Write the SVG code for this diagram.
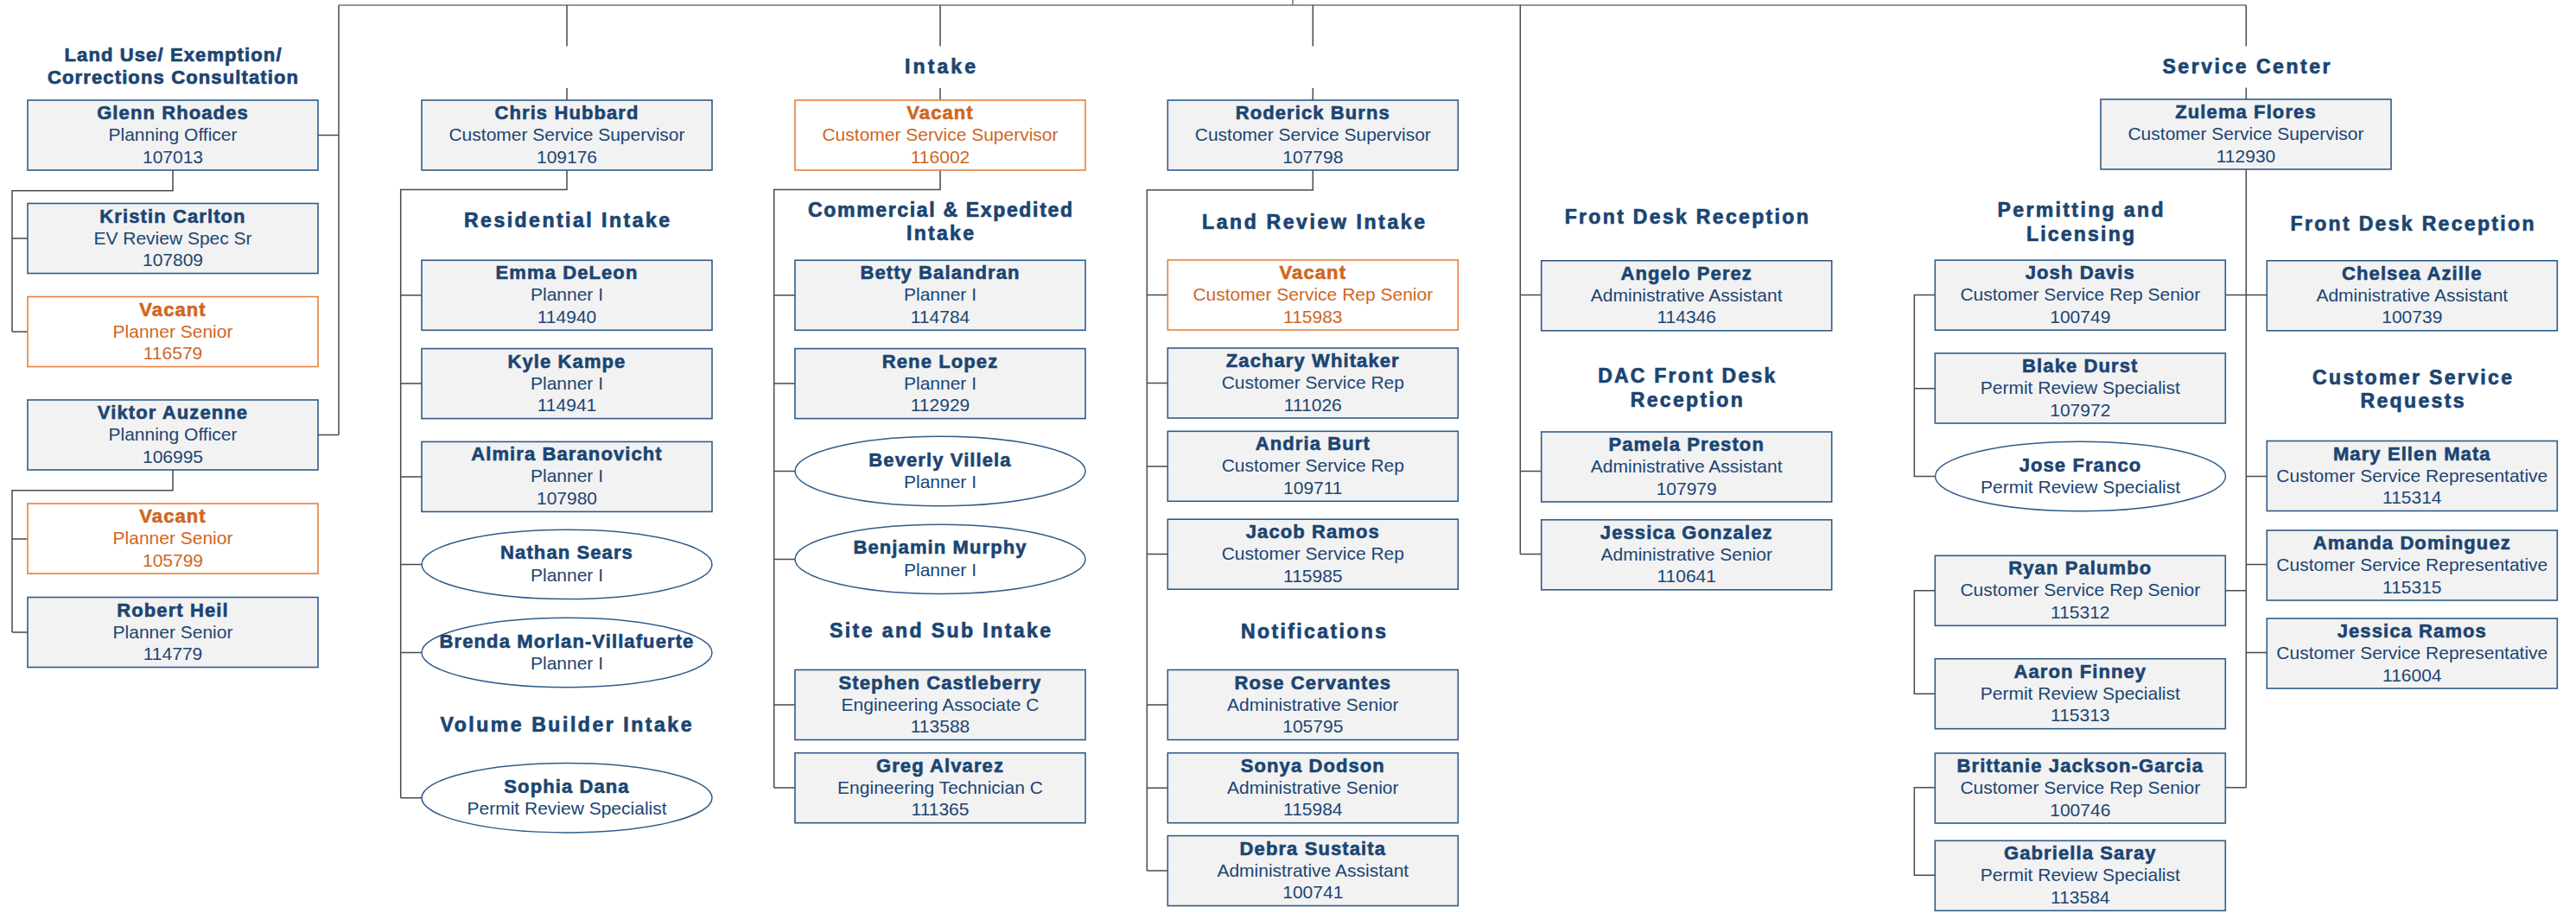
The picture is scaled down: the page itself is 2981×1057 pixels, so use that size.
<svg xmlns="http://www.w3.org/2000/svg" width="2981" height="1057" viewBox="0 0 2981 1057">
<style>
text{font-family:"Liberation Sans",Arial,sans-serif;text-anchor:middle;fill:#1B4572;stroke:#1B4572;stroke-width:0}
.n{font-weight:bold;font-size:22px;letter-spacing:1.1px;stroke-width:0.6px}
.t{font-size:21px}
.h{font-weight:bold;font-size:23px;stroke-width:0.7px}
.h2{font-size:22px}
.box rect{fill:#F2F2F2;stroke:#2F5C8A;stroke-width:1.6}
.vac rect{fill:#FFFFFF;stroke:#E8803C;stroke-width:1.6}
.vac text{fill:#D0661F;stroke:#D0661F}
.ell ellipse{fill:#FFFFFF;stroke:#2F5C8A;stroke-width:1.5}
#connectors path{fill:none;stroke:#4A4A4A;stroke-width:1.5}
#connectors path.top{stroke:#767676}
</style>
<rect width="2981" height="1057" fill="#FFFFFF"/>

<g id="connectors">
<path class="top" d="M392,6 H2599.3 M1496,0 V6"/>
<path d="M392,6 V503.5 M368,156.5 H392 M368,503.5 H392 M200,197 V220.7 H14 V384 M14,276 H32 M14,384 H32 M200,544 V567.7 H14 V732 M14,624 H32 M14,732 H32"/>
<path d="M656,6 V53.4 M656,102 V116 M656,197 V219.4 H463.7 V923.7 M463.7,341.8 H488 M463.7,444.1 H488 M463.7,552 H488 M463.7,653.4 H488 M463.7,755.5 H488 M463.7,923.7 H488"/>
<path d="M1088,6 V53.4 M1088,102 V116 M1088,197 V219.4 H895.7 V912 M895.7,341.8 H920 M895.7,444.1 H920 M895.7,545.5 H920 M895.7,647.4 H920 M895.7,816 H920 M895.7,912 H920"/>
<path d="M1519.3,6 V53.4 M1519.3,102 V116 M1519.3,197 V220 H1327.3 V1008 M1327.3,341.5 H1351.3 M1327.3,443.5 H1351.3 M1327.3,540 H1351.3 M1327.3,641.6 H1351.3 M1327.3,816 H1351.3 M1327.3,912.2 H1351.3 M1327.3,1008 H1351.3"/>
<path d="M1759.3,6 V641.5 M1759.3,341.5 H1783.7 M1759.3,545.5 H1783.7 M1759.3,641.5 H1783.7"/>
<path d="M2599.3,6 V53.6 M2599.3,101.4 V115 M2599.3,196 V911.7 M2575.7,341.4 H2623.3 M2599.3,551.5 H2623.3 M2599.3,653.5 H2623.3 M2575.7,683.7 H2599.3 M2599.3,755.5 H2623.3 M2575.7,911.7 H2599.3"/>
<path d="M2239.3,341.4 H2215.3 V551.5 H2239.3 M2215.3,449.7 H2239.3 M2239.3,683.7 H2215.3 V803.3 H2239.3 M2239.3,911.7 H2215.3 V1013.3 H2239.3"/>
</g>

<g id="headings">
<text class="h h2" x="200" y="70.6" textLength="251">Land Use/ Exemption/</text>
<text class="h h2" x="200" y="97" textLength="290">Corrections Consultation</text>
<text class="h" x="656" y="263.4" textLength="238">Residential Intake</text>
<text class="h" x="655" y="847" textLength="291">Volume Builder Intake</text>
<text class="h" x="1088" y="85" textLength="82">Intake</text>
<text class="h" x="1088" y="251.4" textLength="306">Commercial &amp; Expedited</text>
<text class="h" x="1088" y="278.2" textLength="78">Intake</text>
<text class="h" x="1088" y="738.2" textLength="256">Site and Sub Intake</text>
<text class="h" x="1520" y="265" textLength="258">Land Review Intake</text>
<text class="h" x="1520" y="739" textLength="168">Notifications</text>
<text class="h" x="1951.7" y="259" textLength="282">Front Desk Reception</text>
<text class="h" x="1951.7" y="442.9" textLength="205">DAC Front Desk</text>
<text class="h" x="1951.7" y="471" textLength="130">Reception</text>
<text class="h" x="2599.5" y="85" textLength="194">Service Center</text>
<text class="h" x="2407.5" y="250.7" textLength="192">Permitting and</text>
<text class="h" x="2407.5" y="279.4" textLength="125">Licensing</text>
<text class="h" x="2791.5" y="266.7" textLength="282">Front Desk Reception</text>
<text class="h" x="2791.5" y="444.6" textLength="231">Customer Service</text>
<text class="h" x="2791.5" y="472.3" textLength="120">Requests</text>
</g>

<!-- Column 1 -->
<g id="glenn-rhoades" class="box" transform="translate(32,116)"><rect width="336" height="81"/><text class="n" x="168" y="22">Glenn Rhoades</text><text class="t" x="168" y="47">Planning Officer</text><text class="t" x="168" y="72.5">107013</text></g>
<g id="kristin-carlton" class="box" transform="translate(32,235.5)"><rect width="336" height="81"/><text class="n" x="168" y="22">Kristin Carlton</text><text class="t" x="168" y="47">EV Review Spec Sr</text><text class="t" x="168" y="72.5">107809</text></g>
<g id="vacant-116579" class="vac" transform="translate(32,343.5)"><rect width="336" height="81"/><text class="n" x="168" y="22">Vacant</text><text class="t" x="168" y="47">Planner Senior</text><text class="t" x="168" y="72.5">116579</text></g>
<g id="viktor-auzenne" class="box" transform="translate(32,463)"><rect width="336" height="81"/><text class="n" x="168" y="22">Viktor Auzenne</text><text class="t" x="168" y="47">Planning Officer</text><text class="t" x="168" y="72.5">106995</text></g>
<g id="vacant-105799" class="vac" transform="translate(32,583)"><rect width="336" height="81"/><text class="n" x="168" y="22">Vacant</text><text class="t" x="168" y="47">Planner Senior</text><text class="t" x="168" y="72.5">105799</text></g>
<g id="robert-heil" class="box" transform="translate(32,691.5)"><rect width="336" height="81"/><text class="n" x="168" y="22">Robert Heil</text><text class="t" x="168" y="47">Planner Senior</text><text class="t" x="168" y="72.5">114779</text></g>

<!-- Column 2 -->
<g id="chris-hubbard" class="box" transform="translate(488,116)"><rect width="336" height="81"/><text class="n" x="168" y="22">Chris Hubbard</text><text class="t" x="168" y="47">Customer Service Supervisor</text><text class="t" x="168" y="72.5">109176</text></g>
<g id="emma-deleon" class="box" transform="translate(488,301.3)"><rect width="336" height="81"/><text class="n" x="168" y="22">Emma DeLeon</text><text class="t" x="168" y="47">Planner I</text><text class="t" x="168" y="72.5">114940</text></g>
<g id="kyle-kampe" class="box" transform="translate(488,403.6)"><rect width="336" height="81"/><text class="n" x="168" y="22">Kyle Kampe</text><text class="t" x="168" y="47">Planner I</text><text class="t" x="168" y="72.5">114941</text></g>
<g id="almira-baranovicht" class="box" transform="translate(488,511.4)"><rect width="336" height="81"/><text class="n" x="168" y="22">Almira Baranovicht</text><text class="t" x="168" y="47">Planner I</text><text class="t" x="168" y="72.5">107980</text></g>
<g id="nathan-sears" class="ell" transform="translate(656,653.4)"><ellipse rx="168" ry="40.2"/><text class="n" y="-6">Nathan Sears</text><text class="t" y="19.5">Planner I</text></g>
<g id="brenda-morlan-villafuerte" class="ell" transform="translate(656,755.5)"><ellipse rx="168" ry="40.2"/><text class="n" y="-6">Brenda Morlan-Villafuerte</text><text class="t" y="19.5">Planner I</text></g>
<g id="sophia-dana" class="ell" transform="translate(656,923.7)"><ellipse rx="168" ry="40.2"/><text class="n" y="-6">Sophia Dana</text><text class="t" y="19.5">Permit Review Specialist</text></g>

<!-- Column 3 -->
<g id="vacant-116002" class="vac" transform="translate(920,116)"><rect width="336" height="81"/><text class="n" x="168" y="22">Vacant</text><text class="t" x="168" y="47">Customer Service Supervisor</text><text class="t" x="168" y="72.5">116002</text></g>
<g id="betty-balandran" class="box" transform="translate(920,301.3)"><rect width="336" height="81"/><text class="n" x="168" y="22">Betty Balandran</text><text class="t" x="168" y="47">Planner I</text><text class="t" x="168" y="72.5">114784</text></g>
<g id="rene-lopez" class="box" transform="translate(920,403.6)"><rect width="336" height="81"/><text class="n" x="168" y="22">Rene Lopez</text><text class="t" x="168" y="47">Planner I</text><text class="t" x="168" y="72.5">112929</text></g>
<g id="beverly-villela" class="ell" transform="translate(1088,545.5)"><ellipse rx="168" ry="40.2"/><text class="n" y="-6">Beverly Villela</text><text class="t" y="19.5">Planner I</text></g>
<g id="benjamin-murphy" class="ell" transform="translate(1088,647.4)"><ellipse rx="168" ry="40.2"/><text class="n" y="-6">Benjamin Murphy</text><text class="t" y="19.5">Planner I</text></g>
<g id="stephen-castleberry" class="box" transform="translate(920,775.5)"><rect width="336" height="81"/><text class="n" x="168" y="22">Stephen Castleberry</text><text class="t" x="168" y="47">Engineering Associate C</text><text class="t" x="168" y="72.5">113588</text></g>
<g id="greg-alvarez" class="box" transform="translate(920,871.7)"><rect width="336" height="81"/><text class="n" x="168" y="22">Greg Alvarez</text><text class="t" x="168" y="47">Engineering Technician C</text><text class="t" x="168" y="72.5">111365</text></g>

<!-- Column 4 -->
<g id="roderick-burns" class="box" transform="translate(1351.3,116)"><rect width="336" height="81"/><text class="n" x="168" y="22">Roderick Burns</text><text class="t" x="168" y="47">Customer Service Supervisor</text><text class="t" x="168" y="72.5">107798</text></g>
<g id="vacant-115983" class="vac" transform="translate(1351.3,301)"><rect width="336" height="81"/><text class="n" x="168" y="22">Vacant</text><text class="t" x="168" y="47">Customer Service Rep Senior</text><text class="t" x="168" y="72.5">115983</text></g>
<g id="zachary-whitaker" class="box" transform="translate(1351.3,403)"><rect width="336" height="81"/><text class="n" x="168" y="22">Zachary Whitaker</text><text class="t" x="168" y="47">Customer Service Rep</text><text class="t" x="168" y="72.5">111026</text></g>
<g id="andria-burt" class="box" transform="translate(1351.3,499.3)"><rect width="336" height="81"/><text class="n" x="168" y="22">Andria Burt</text><text class="t" x="168" y="47">Customer Service Rep</text><text class="t" x="168" y="72.5">109711</text></g>
<g id="jacob-ramos" class="box" transform="translate(1351.3,601.2)"><rect width="336" height="81"/><text class="n" x="168" y="22">Jacob Ramos</text><text class="t" x="168" y="47">Customer Service Rep</text><text class="t" x="168" y="72.5">115985</text></g>
<g id="rose-cervantes" class="box" transform="translate(1351.3,775.5)"><rect width="336" height="81"/><text class="n" x="168" y="22">Rose Cervantes</text><text class="t" x="168" y="47">Administrative Senior</text><text class="t" x="168" y="72.5">105795</text></g>
<g id="sonya-dodson" class="box" transform="translate(1351.3,871.7)"><rect width="336" height="81"/><text class="n" x="168" y="22">Sonya Dodson</text><text class="t" x="168" y="47">Administrative Senior</text><text class="t" x="168" y="72.5">115984</text></g>
<g id="debra-sustaita" class="box" transform="translate(1351.3,967.6)"><rect width="336" height="81"/><text class="n" x="168" y="22">Debra Sustaita</text><text class="t" x="168" y="47">Administrative Assistant</text><text class="t" x="168" y="72.5">100741</text></g>

<!-- Column 5 -->
<g id="angelo-perez" class="box" transform="translate(1783.7,301.8)"><rect width="336" height="81"/><text class="n" x="168" y="22">Angelo Perez</text><text class="t" x="168" y="47">Administrative Assistant</text><text class="t" x="168" y="72.5">114346</text></g>
<g id="pamela-preston" class="box" transform="translate(1783.7,500)"><rect width="336" height="81"/><text class="n" x="168" y="22">Pamela Preston</text><text class="t" x="168" y="47">Administrative Assistant</text><text class="t" x="168" y="72.5">107979</text></g>
<g id="jessica-gonzalez" class="box" transform="translate(1783.7,601.8)"><rect width="336" height="81"/><text class="n" x="168" y="22">Jessica Gonzalez</text><text class="t" x="168" y="47">Administrative Senior</text><text class="t" x="168" y="72.5">110641</text></g>

<!-- Service Center -->
<g id="zulema-flores" class="box" transform="translate(2431,115)"><rect width="336" height="81"/><text class="n" x="168" y="22">Zulema Flores</text><text class="t" x="168" y="47">Customer Service Supervisor</text><text class="t" x="168" y="72.5">112930</text></g>
<g id="josh-davis" class="box" transform="translate(2239.3,301.2)"><rect width="336" height="81"/><text class="n" x="168" y="22">Josh Davis</text><text class="t" x="168" y="47">Customer Service Rep Senior</text><text class="t" x="168" y="72.5">100749</text></g>
<g id="blake-durst" class="box" transform="translate(2239.3,409)"><rect width="336" height="81"/><text class="n" x="168" y="22">Blake Durst</text><text class="t" x="168" y="47">Permit Review Specialist</text><text class="t" x="168" y="72.5">107972</text></g>
<g id="jose-franco" class="ell" transform="translate(2407.5,551.5)"><ellipse rx="168" ry="40.2"/><text class="n" y="-6">Jose Franco</text><text class="t" y="19.5">Permit Review Specialist</text></g>
<g id="ryan-palumbo" class="box" transform="translate(2239.3,643.3)"><rect width="336" height="81"/><text class="n" x="168" y="22">Ryan Palumbo</text><text class="t" x="168" y="47">Customer Service Rep Senior</text><text class="t" x="168" y="72.5">115312</text></g>
<g id="aaron-finney" class="box" transform="translate(2239.3,762.7)"><rect width="336" height="81"/><text class="n" x="168" y="22">Aaron Finney</text><text class="t" x="168" y="47">Permit Review Specialist</text><text class="t" x="168" y="72.5">115313</text></g>
<g id="brittanie-jackson-garcia" class="box" transform="translate(2239.3,872)"><rect width="336" height="81"/><text class="n" x="168" y="22">Brittanie Jackson-Garcia</text><text class="t" x="168" y="47">Customer Service Rep Senior</text><text class="t" x="168" y="72.5">100746</text></g>
<g id="gabriella-saray" class="box" transform="translate(2239.3,973.3)"><rect width="336" height="81"/><text class="n" x="168" y="22">Gabriella Saray</text><text class="t" x="168" y="47">Permit Review Specialist</text><text class="t" x="168" y="72.5">113584</text></g>
<g id="chelsea-azille" class="box" transform="translate(2623.3,301.8)"><rect width="336" height="81"/><text class="n" x="168" y="22">Chelsea Azille</text><text class="t" x="168" y="47">Administrative Assistant</text><text class="t" x="168" y="72.5">100739</text></g>
<g id="mary-ellen-mata" class="box" transform="translate(2623.3,510.5)"><rect width="336" height="81"/><text class="n" x="168" y="22">Mary Ellen Mata</text><text class="t" x="168" y="47">Customer Service Representative</text><text class="t" x="168" y="72.5">115314</text></g>
<g id="amanda-dominguez" class="box" transform="translate(2623.3,614)"><rect width="336" height="81"/><text class="n" x="168" y="22">Amanda Dominguez</text><text class="t" x="168" y="47">Customer Service Representative</text><text class="t" x="168" y="72.5">115315</text></g>
<g id="jessica-ramos" class="box" transform="translate(2623.3,716)"><rect width="336" height="81"/><text class="n" x="168" y="22">Jessica Ramos</text><text class="t" x="168" y="47">Customer Service Representative</text><text class="t" x="168" y="72.5">116004</text></g>
</svg>
